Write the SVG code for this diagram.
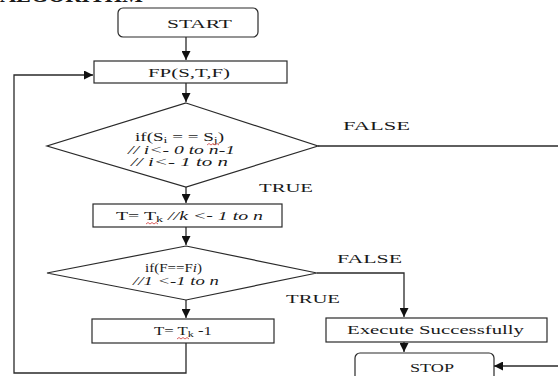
<svg xmlns="http://www.w3.org/2000/svg" width="558" height="376" viewBox="0 0 558 376">
  <style>
    text { font-family: "Liberation Serif", "Times New Roman", serif; fill: #1a1a1a; }
    .lbl { font-size: 13.5px; }
    .sm { font-size: 12.5px; }
    .xs { font-size: 11.5px; }
    .it { font-style: italic; }
    .sub { font-size: 9px; }
    .shape { fill: #ffffff; stroke: #2a2a2a; stroke-width: 1.2; }
    .wire { fill: none; stroke: #2a2a2a; stroke-width: 1.3; }
    .squig { fill: none; stroke: #d03a3a; stroke-width: 0.8; }
  </style>
  <defs>
    <marker id="arrow" viewBox="0 0 10 10" refX="10" refY="5" markerWidth="9" markerHeight="9" markerUnits="userSpaceOnUse" orient="auto">
      <path d="M0,0 L10,5 L0,10 z" fill="#111111"/>
    </marker>
  </defs>

  <rect x="0" y="0" width="558" height="376" fill="#ffffff"/>

  <!-- heading, mostly above the top edge -->
  <text x="0" y="1.5" font-size="22" font-weight="bold" textLength="143" lengthAdjust="spacingAndGlyphs">ALGORITHM</text>

  <!-- connectors -->
  <g id="connectors">
    <path class="wire" d="M186,37 V60" marker-end="url(#arrow)"/>
    <path class="wire" d="M186,83 V102" marker-end="url(#arrow)"/>
    <path class="wire" d="M186,187 V203" marker-end="url(#arrow)"/>
    <path class="wire" d="M186,227 V245" marker-end="url(#arrow)"/>
    <path class="wire" d="M186,300 V318" marker-end="url(#arrow)"/>
    <path class="wire" d="M186,343 V373 H14 V75 H93" marker-end="url(#arrow)"/>
    <path class="wire" d="M318,146 H560"/>
    <path class="wire" d="M317,273 H404 V317" marker-end="url(#arrow)"/>
    <path class="wire" d="M404,342 V352" marker-end="url(#arrow)"/>
    <path class="wire" d="M560,366 H494" marker-end="url(#arrow)"/>
    <text class="lbl" x="343" y="130" textLength="67" lengthAdjust="spacingAndGlyphs">FALSE</text>
    <text class="lbl" x="259" y="192" textLength="54" lengthAdjust="spacingAndGlyphs">TRUE</text>
    <text class="lbl" x="337" y="263" textLength="65" lengthAdjust="spacingAndGlyphs">FALSE</text>
    <text class="lbl" x="286" y="303" textLength="54" lengthAdjust="spacingAndGlyphs">TRUE</text>
  </g>

  <g id="start">
    <rect class="shape" x="118" y="8" width="140" height="29" rx="5"/>
    <text class="lbl" x="167" y="28" textLength="65" lengthAdjust="spacingAndGlyphs">START</text>
  </g>

  <g id="fp">
    <rect class="shape" x="94" y="61" width="193" height="22"/>
    <text class="lbl" x="148" y="77" textLength="82" lengthAdjust="spacingAndGlyphs">FP(S,T,F)</text>
  </g>

  <g id="check-s">
    <polygon class="shape" points="186,103 318,146 186,187 47,146"/>
    <text class="sm" x="135" y="141" textLength="89" lengthAdjust="spacingAndGlyphs">if(S<tspan class="sub" dy="2">i</tspan><tspan dy="-2"> = = S</tspan><tspan class="sub" dy="2">j</tspan><tspan dy="-2">)</tspan></text>
    <path class="squig" d="M207,145 l2,-1.5 l2,1.5 l2,-1.5 l2,1.5 l2,-1.5 l2,1.5"/>
    <text class="xs it" x="128" y="154" textLength="107" lengthAdjust="spacingAndGlyphs">// i&lt;- 0 to n-1</text>
    <text class="xs it" x="131" y="166" textLength="97" lengthAdjust="spacingAndGlyphs">// i&lt;- 1 to n</text>
  </g>

  <g id="assign-t">
    <rect class="shape" x="93" y="204" width="189" height="23"/>
    <text class="sm" x="116" y="220" textLength="147" lengthAdjust="spacingAndGlyphs">T= T<tspan class="sub" dy="2">k</tspan><tspan class="it" dy="-2"> //k &lt;- 1 to n</tspan></text>
    <path class="squig" d="M146,224 l2,-1.5 l2,1.5 l2,-1.5 l2,1.5 l2,-1.5 l2,1.5"/>
  </g>

  <g id="check-f">
    <polygon class="shape" points="186,246 317,273 186,300 47,273"/>
    <text class="sm" x="145" y="272" textLength="57" lengthAdjust="spacingAndGlyphs">if(F==F<tspan class="it">i</tspan>)</text>
    <text class="xs it" x="133" y="285" textLength="86" lengthAdjust="spacingAndGlyphs">//1 &lt;-1 to n</text>
  </g>

  <g id="decrement-t">
    <rect class="shape" x="92" y="319" width="182" height="24"/>
    <text class="sm" x="154" y="335" textLength="58" lengthAdjust="spacingAndGlyphs">T= T<tspan class="sub" dy="2">k</tspan><tspan dy="-2"> -1</tspan></text>
    <path class="squig" d="M177,339 l2,-1.5 l2,1.5 l2,-1.5 l2,1.5 l2,-1.5 l2,1.5"/>
  </g>

  <g id="execute">
    <rect class="shape" x="326" y="318" width="221" height="24"/>
    <text class="sm" x="347" y="334" textLength="177" lengthAdjust="spacingAndGlyphs">Execute Successfully</text>
  </g>

  <g id="stop">
    <rect class="shape" x="355" y="353" width="139" height="30" rx="5"/>
    <text class="lbl" x="410" y="372" textLength="44" lengthAdjust="spacingAndGlyphs">STOP</text>
  </g>
</svg>
